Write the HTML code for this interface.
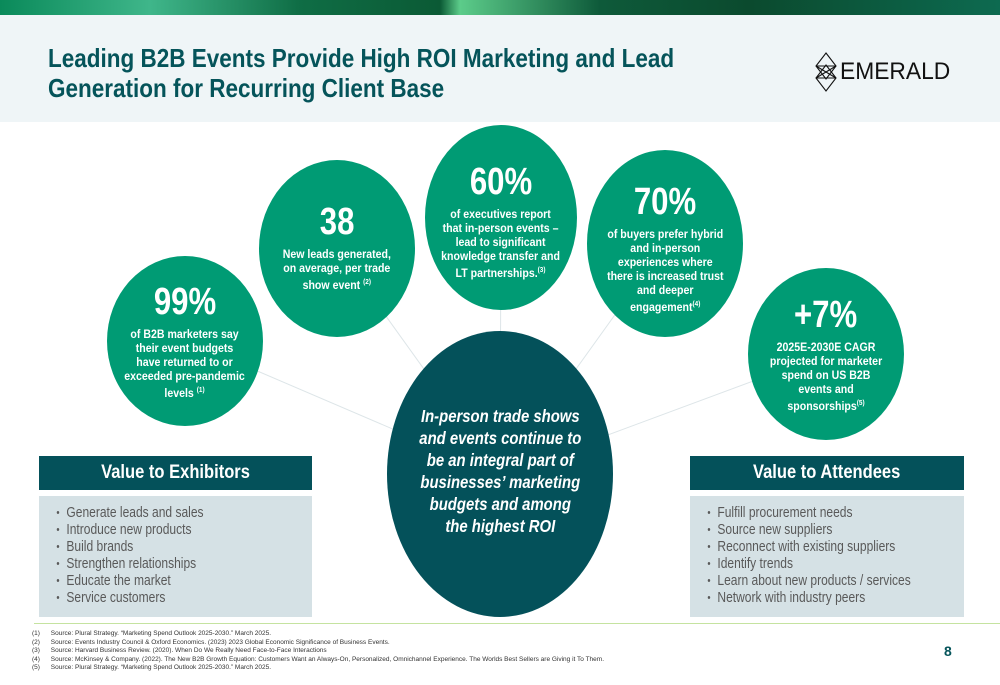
<!DOCTYPE html>
<html><head><meta charset="utf-8"><style>
body{margin:0;width:1000px;height:685px;position:relative;overflow:hidden;background:#fff;font-family:"Liberation Sans",sans-serif}
.abs{position:absolute}
.c{position:absolute;background:#009b74;border-radius:50%;color:#fff;text-align:center;font-weight:bold;display:flex;flex-direction:column;align-items:center;justify-content:center}
.c .big{font-size:38px;line-height:40px;transform:scaleX(0.82)}
.c .t{font-size:11.5px;line-height:14px;margin-top:6px;transform:scaleX(0.92)}
sup{font-size:7px}
.hd{position:absolute;background:#04515a;color:#fff;font-size:19px;font-weight:bold;text-align:center;line-height:34px}
.hd span{display:inline-block;transform:scaleX(0.87)}
.box{position:absolute;background:#d5e1e5;color:#595959;font-size:14.5px;line-height:17px}
.box ul{margin:9px 0 0 0;padding-left:33px;transform:scaleX(0.83);transform-origin:0 0;width:330px}
.box li{list-style:none;position:relative}
.box li:before{content:"•";position:absolute;left:-12px;font-size:11px}
.fn{position:absolute;left:32px;top:630px;font-size:6.5px;line-height:8.6px;color:#333}
</style></head><body>
<div class="abs" style="left:0;top:0;width:1000px;height:15px;background:linear-gradient(90deg,#0a8a5a 0%,#3fb68a 15%,#0f6d45 30%,#0b5a35 44%,#5ccc8a 46%,#0e5a3a 60%,#0b4a2e 75%,#0d6a50 100%)"></div>
<div class="abs" style="left:0;top:15px;width:1000px;height:107px;background:#eff5f7"></div>
<div class="abs" style="left:48px;top:43px;font-size:26px;line-height:30px;font-weight:bold;color:#05545a;white-space:nowrap;transform:scaleX(0.865);transform-origin:0 0">Leading B2B Events Provide High ROI Marketing and Lead<br>Generation for Recurring Client Base</div>
<div class="abs" style="left:815px;top:52px;height:40px;display:flex;align-items:center">
<svg width="22" height="40" viewBox="0 0 22 40"><g fill="none" stroke="#111" stroke-width="1.1"><path d="M11 1 L21 14 L11 27 L1 14 Z"/><path d="M11 13 L21 26 L11 39 L1 26 Z"/><path d="M1 14 L21 26 M21 14 L1 26 M1 14 H21 M1 26 H21"/></g></svg>
<span style="font-size:24px;color:#111;margin-left:3px;display:inline-block;transform:scaleX(0.95);transform-origin:0 50%">EMERALD</span></div>
<svg class="abs" style="left:0;top:0" width="1000" height="685"><g stroke="#dde5e8" stroke-width="1"><line x1="185" y1="340" x2="500" y2="475"/><line x1="337" y1="248" x2="500" y2="475"/><line x1="501" y1="218" x2="500" y2="475"/><line x1="665" y1="245" x2="500" y2="475"/><line x1="826" y1="354" x2="500" y2="475"/></g></svg>
<div class="c" style="left:107px;top:256px;width:156px;height:170px"><div class="big">99%</div><div class="t">of B2B marketers say<br>their event budgets<br>have returned to or<br>exceeded pre-pandemic<br>levels <sup>(1)</sup></div></div>
<div class="c" style="left:259px;top:160px;width:156px;height:177px;justify-content:flex-start"><div class="big" style="margin-top:42px">38</div><div class="t">New leads generated,<br>on average, per trade<br>show event <sup>(2)</sup></div></div>
<div class="c" style="left:425px;top:125px;width:152px;height:185px;justify-content:flex-start"><div class="big" style="margin-top:37px">60%</div><div class="t">of executives report<br>that in-person events –<br>lead to significant<br>knowledge transfer and<br>LT partnerships.<sup>(3)</sup></div></div>
<div class="c" style="left:587px;top:150px;width:156px;height:187px;justify-content:flex-start"><div class="big" style="margin-top:32px">70%</div><div class="t">of buyers prefer hybrid<br>and in-person<br>experiences where<br>there is increased trust<br>and deeper<br>engagement<sup>(4)</sup></div></div>
<div class="c" style="left:748px;top:268px;width:156px;height:172px"><div class="big">+7%</div><div class="t">2025E-2030E CAGR<br>projected for marketer<br>spend on US B2B<br>events and<br>sponsorships<sup>(5)</sup></div></div>
<div class="abs" style="left:387px;top:331px;width:226px;height:286px;border-radius:50%;background:#04515a;color:#fff;font-weight:bold;font-style:italic;font-size:17.5px;line-height:22px;text-align:center;display:flex;align-items:center;justify-content:center"><div style="margin-top:-6px;transform:scaleX(0.85);white-space:nowrap">In-person trade shows<br>and events continue to<br>be an integral part of<br>businesses’ marketing<br>budgets and among<br>the highest ROI</div></div>
<div class="hd" style="left:39px;top:456px;width:273px"><span>Value to Exhibitors</span></div>
<div class="box" style="left:39px;top:496px;width:273px;height:121px"><ul><li>Generate leads and sales</li><li>Introduce new products</li><li>Build brands</li><li>Strengthen relationships</li><li>Educate the market</li><li>Service customers</li></ul></div>
<div class="hd" style="left:690px;top:456px;width:274px"><span>Value to Attendees</span></div>
<div class="box" style="left:690px;top:496px;width:274px;height:121px"><ul><li>Fulfill procurement needs</li><li>Source new suppliers</li><li>Reconnect with existing suppliers</li><li>Identify trends</li><li>Learn about new products / services</li><li>Network with industry peers</li></ul></div>
<div class="abs" style="left:34px;top:623px;width:966px;height:1px;background:#c5e3a0"></div>
<div class="fn">
(1)&nbsp;&nbsp;&nbsp;&nbsp;&nbsp;&nbsp;Source: Plural Strategy. “Marketing Spend Outlook 2025-2030.” March 2025.<br>
(2)&nbsp;&nbsp;&nbsp;&nbsp;&nbsp;&nbsp;Source: Events Industry Council &amp; Oxford Economics. (2023) 2023 Global Economic Significance of Business Events.<br>
(3)&nbsp;&nbsp;&nbsp;&nbsp;&nbsp;&nbsp;Source: Harvard Business Review. (2020). When Do We Really Need Face-to-Face Interactions<br>
(4)&nbsp;&nbsp;&nbsp;&nbsp;&nbsp;&nbsp;Source: McKinsey &amp; Company. (2022). The New B2B Growth Equation: Customers Want an Always-On, Personalized, Omnichannel Experience. The Worlds Best Sellers are Giving it To Them.<br>
(5)&nbsp;&nbsp;&nbsp;&nbsp;&nbsp;&nbsp;Source: Plural Strategy. “Marketing Spend Outlook 2025-2030.” March 2025.</div>
<div class="abs" style="left:944px;top:643px;font-size:14px;font-weight:bold;color:#05545a">8</div>
</body></html>
